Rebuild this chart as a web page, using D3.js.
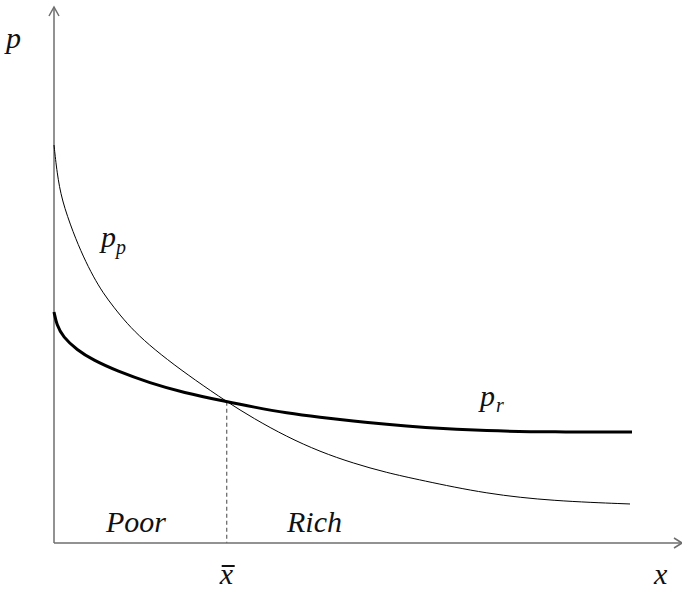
<!DOCTYPE html>
<html lang="en">
	<head>
		<meta charset="utf-8">
		<title>Poor and rich price curves</title>
		<script type="text/javascript" src="https://cdn.jsdelivr.net/npm/d3@7"></script>
		<style type="text/css">
			body, html {
				margin: 0;
				padding: 0;
				background: #fff;
			}
			.lbl {
				font-family: "Liberation Serif", "DejaVu Serif", serif;
				font-style: italic;
				fill: #111;
			}
			.axis {
				stroke: #6e6e6e;
				stroke-width: 1.5;
				fill: none;
			}
		</style>
	</head>
	<body>
		<script type="text/javascript">
			// chart size
			var w = 682;
			var h = 591;

			// curve samples (x, p)
			var ppX = [0, 0.048, 0.123, 0.307, 0.467, 0.626, 0.785, 0.945, 1.158, 1.422, 1.795, 2.245, 2.750, 3.174, 3.705, 4.236, 4.766, 5.298, 5.828, 6.895, 7.946, 9.172];
			var ppY = [7.425, 6.903, 6.399, 5.784, 5.341, 4.968, 4.659, 4.409, 4.099, 3.787, 3.427, 3.041, 2.636, 2.326, 1.983, 1.703, 1.487, 1.312, 1.175, 0.914, 0.784, 0.728];

			var prX = [0, 0.043, 0.143, 0.366, 0.621, 1.003, 1.529, 2.054, 2.750, 3.174, 3.705, 4.236, 4.766, 5.298, 5.828, 6.895, 7.946, 9.204];
			var prY = [4.310, 4.067, 3.843, 3.601, 3.414, 3.209, 2.985, 2.808, 2.636, 2.537, 2.425, 2.345, 2.276, 2.214, 2.159, 2.090, 2.071, 2.071];

			// crossing point
			var xBar = 2.750;
			var pBar = 2.636;

			var x = d3.scaleLinear().domain([0, 10]).range([54, 682]);
			var y = d3.scaleLinear().domain([0, 10]).range([543, 7]);

			var svg = d3.select("body")
				.append("svg")
				.attr("width", w)
				.attr("height", h);

			// axes with open arrow heads
			svg.append("line").attr("class", "axis")
				.attr("x1", x(0)).attr("y1", y(0))
				.attr("x2", x(0)).attr("y2", y(10));
			svg.append("path").attr("class", "axis")
				.attr("d", "M" + (x(0) - 5) + "," + (y(10) + 9) + "L" + x(0) + "," + y(10) + "L" + (x(0) + 5) + "," + (y(10) + 9));

			svg.append("line").attr("class", "axis")
				.attr("x1", x(0)).attr("y1", y(0))
				.attr("x2", x(10)).attr("y2", y(0));
			svg.append("path").attr("class", "axis")
				.attr("d", "M" + (x(10) - 8) + "," + (y(0) - 5) + "L" + x(10) + "," + y(0) + "L" + (x(10) - 8) + "," + (y(0) + 5));

			// dashed drop line
			svg.append("line")
				.attr("x1", x(xBar)).attr("y1", y(pBar))
				.attr("x2", x(xBar)).attr("y2", y(0))
				.attr("stroke", "#6e6e6e")
				.attr("stroke-width", 1.3)
				.attr("stroke-dasharray", "4,3");

			// basis spline evens out small reading errors
			var line = d3.line()
				.x(function(d) { return x(d[0]); })
				.y(function(d) { return y(d[1]); })
				.curve(d3.curveBasis);

			svg.append("path")
				.datum(d3.zip(ppX, ppY))
				.attr("d", line)
				.attr("fill", "none")
				.attr("stroke", "#000")
				.attr("stroke-width", 1);

			svg.append("path")
				.datum(d3.zip(prX, prY))
				.attr("d", line)
				.attr("fill", "none")
				.attr("stroke", "#000")
				.attr("stroke-width", 3);

			// labels
			function label(tx, ty, str, size) {
				return svg.append("text")
					.attr("class", "lbl")
					.attr("x", tx)
					.attr("y", ty)
					.attr("font-size", size)
					.text(str);
			}

			label(6, 48, "p", 30);

			var tp = label(101, 247, "", 30);
			tp.append("tspan").text("p");
			tp.append("tspan").attr("dy", 7).attr("font-size", 20).text("p");

			var tr = label(480, 406, "", 30);
			tr.append("tspan").text("p");
			tr.append("tspan").attr("dy", 6).attr("dx", 1).attr("font-size", 20).text("r");

			label(106, 532, "Poor", 30);
			label(287, 532, "Rich", 30);

			label(x(xBar) - 7, 584, "x", 30);
			svg.append("line")
				.attr("x1", x(xBar) - 5).attr("x2", x(xBar) + 8)
				.attr("y1", 566).attr("y2", 566)
				.attr("stroke", "#111")
				.attr("stroke-width", 2);

			label(654, 584, "x", 30);
		</script>
	</body>
</html>
